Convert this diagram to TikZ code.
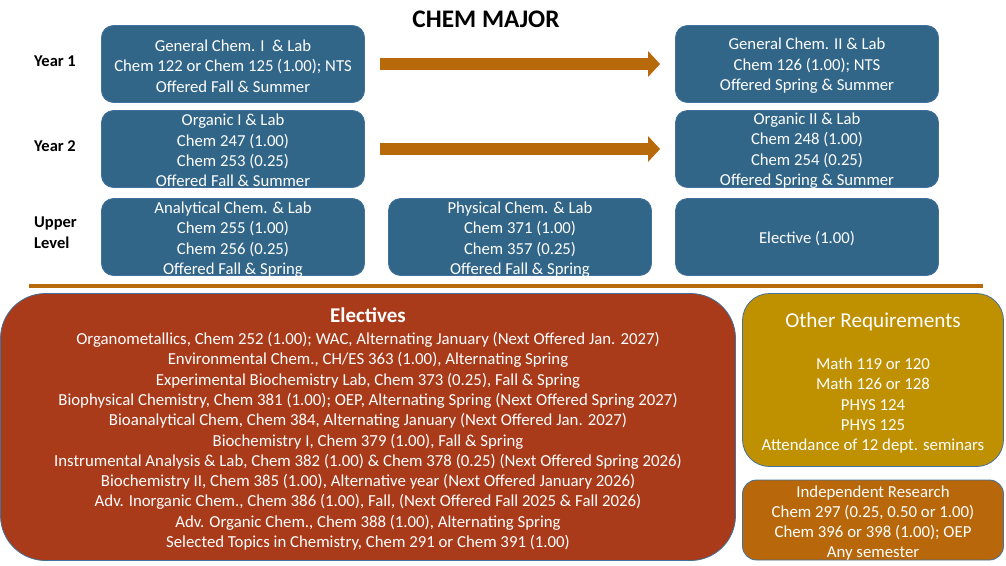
\documentclass[tikz,border=0pt]{standalone}
\usepackage{fontspec}
\setmainfont{Carlito}
\usetikzlibrary{arrows.meta}
\definecolor{boxblue}{HTML}{326688}
\definecolor{boxedge}{HTML}{41719C}
\definecolor{arrowbrown}{HTML}{B8690A}
\definecolor{rust}{HTML}{A93A1A}
\definecolor{gold}{HTML}{BF9000}
\definecolor{ochre}{HTML}{B8680A}
\tikzset{
  bluebox/.style={draw=boxedge, line width=0.8pt, fill=boxblue, rounded corners=12pt,
    minimum width=263pt, minimum height=77pt, inner sep=0pt},
  boxtext/.style={text=white, align=center, inner sep=0pt,
    font=\fontsize{16.7}{20.4}\selectfont},
  yearlabel/.style={anchor=west, align=left, inner sep=0pt, font=\bfseries\fontsize{16.5}{21}\selectfont},
  bigarrow/.style={arrowbrown, line width=12pt, -{Triangle[length=12pt,width=25pt]}, shorten <=15pt, shorten >=15pt},
  infobox/.style={draw=boxedge, line width=0.8pt, inner sep=0pt},
  infotext/.style={text=white, align=center, inner sep=0pt,
    font=\fontsize{16.8}{20.3}\selectfont}
}
\begin{document}
\begin{tikzpicture}[x=1pt,y=-1pt]
\useasboundingbox (0,0) rectangle (1006,565);
% title
\node[font=\bfseries\fontsize{25.3}{28}\selectfont, inner sep=0pt] (title) at (486,19) {CHEM MAJOR};
% year labels
\node[yearlabel] (y1) at (34,61) {Year 1};
\node[yearlabel] (y2) at (34,146) {Year 2};
\node[yearlabel] (y3) at (34,233) {Upper\\Level};
% boxes
\node[bluebox] (g1) at (233,64) {};
\node[bluebox] (g2) at (807,64) {};
\node[bluebox] (o1) at (233,149) {};
\node[bluebox] (o2) at (807,149) {};
\node[bluebox] (an) at (233,237) {};
\node[bluebox] (ph) at (520,237) {};
\node[bluebox] (el) at (807,237) {};
\node[boxtext] (g1t) at ([yshift=-2pt]g1.center) {General Chem. I \ \& Lab\\Chem 122 or Chem 125 (1.00); NTS\\Offered Fall \& Summer};
\node[boxtext] (g2t) at ([yshift=-2pt]g2.center) {General Chem. II \& Lab\\Chem 126 (1.00); NTS\\Offered Spring \& Summer};
\node[boxtext] (o1t) at ([yshift=-1.5pt]o1.center) {Organic I \& Lab\\Chem 247 (1.00)\\Chem 253 (0.25)\\Offered Fall \& Summer};
\node[boxtext] (o2t) at ([yshift=-1.5pt]o2.center) {Organic II \& Lab\\Chem 248 (1.00)\\Chem 254 (0.25)\\Offered Spring \& Summer};
\node[boxtext] (ant) at ([yshift=-2.5pt]an.center) {Analytical Chem. \& Lab\\Chem 255 (1.00)\\Chem 256 (0.25)\\Offered Fall \& Spring};
\node[boxtext] (pht) at ([yshift=-2.5pt]ph.center) {Physical Chem. \& Lab\\Chem 371 (1.00)\\Chem 357 (0.25)\\Offered Fall \& Spring};
\node[boxtext] (elt) at ([yshift=-2pt]el.center) {Elective (1.00)};
% arrows
\draw[bigarrow] (g1) -- (g2);
\draw[bigarrow] (o1) -- (o2);
% separator
\coordinate (s1) at (29,286);
\coordinate (s2) at (983,286);
\draw[arrowbrown, line width=4pt] (s1) -- (s2);
% electives
\node[infobox, fill=rust, rounded corners=45pt, minimum width=735pt, minimum height=267pt] (elec) at (368,427) {};
\node[infotext] (elect) at ([yshift=-2pt]elec.center)
  {{\bfseries\fontsize{21}{20.3}\selectfont Electives}\\[1.8pt]
   Organometallics, Chem 252 (1.00); WAC, Alternating January (Next Offered Jan. 2027)\\
   Environmental Chem., CH/ES 363 (1.00), Alternating Spring\\
   Experimental Biochemistry Lab, Chem 373 (0.25), Fall \& Spring\\
   Biophysical Chemistry, Chem 381 (1.00); OEP, Alternating Spring (Next Offered Spring 2027)\\
   Bioanalytical Chem, Chem 384, Alternating January (Next Offered Jan. 2027)\\
   Biochemistry I, Chem 379 (1.00), Fall \& Spring\\
   Instrumental Analysis \& Lab, Chem 382 (1.00) \& Chem 378 (0.25) (Next Offered Spring 2026)\\
   Biochemistry II, Chem 385 (1.00), Alternative year (Next Offered January 2026)\\
   Adv. Inorganic Chem., Chem 386 (1.00), Fall, (Next Offered Fall 2025 \& Fall 2026)\\
   Adv. Organic Chem., Chem 388 (1.00), Alternating Spring\\
   Selected Topics in Chemistry, Chem 291 or Chem 391 (1.00)};
% other requirements
\node[infobox, fill=gold, rounded corners=27pt, minimum width=261pt, minimum height=173pt] (other) at (873,380) {};
\node[infotext] (othert) at ([yshift=-3pt]other.center)
  {{\fontsize{21.2}{20.3}\selectfont Other Requirements}\\[21.8pt]
   Math 119 or 120\\Math 126 or 128\\PHYS 124\\PHYS 125\\Attendance of 12 dept. seminars};
% independent research
\node[infobox, fill=ochre, rounded corners=14pt, minimum width=261pt, minimum height=80pt] (ind) at (873,520) {};
\node[infotext] (indt) at ([yshift=-3pt]ind.center)
  {Independent Research\\Chem 297 (0.25, 0.50 or 1.00)\\Chem 396 or 398 (1.00); OEP\\Any semester};
\end{tikzpicture}
\end{document}
